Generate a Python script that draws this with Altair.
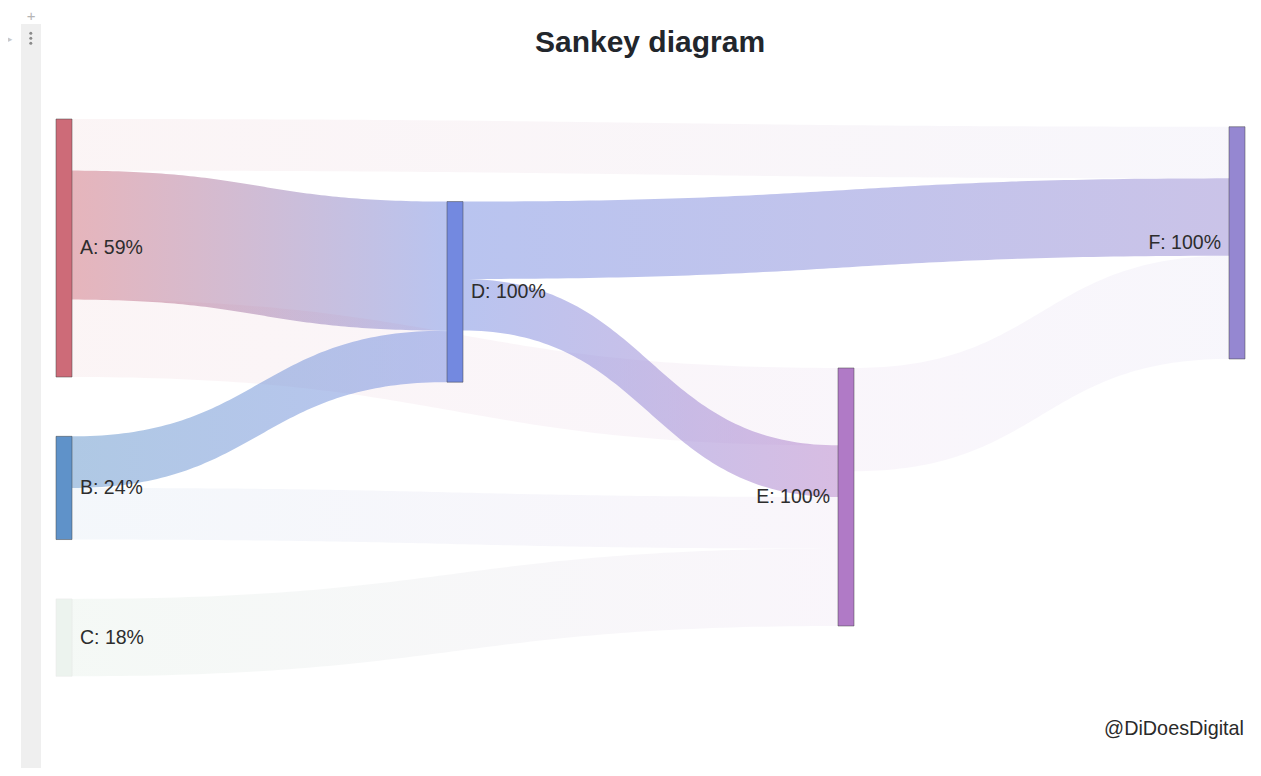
import altair as alt
import pandas as pd
import numpy as np

# ---------------- data ----------------
node_names = ["A", "B", "C", "D", "E", "F"]
node_labels = ["A: 59%", "B: 24%", "C: 18%", "D: 100%", "E: 100%", "F: 100%"]
node_colors = ["#cd6b78", "#5f92c9", "#6aa57a", "#7389e0", "#b07ac6", "#9587d1"]
node_column = [0, 0, 0, 1, 2, 3]
node_top = [0, 123, 186, 32, 96.5, 3]  # layout (like plotly node.y), in flow units

link_source = ["A", "A", "A", "B", "B", "C", "D", "D", "E"]
link_target = ["F", "D", "E", "D", "E", "E", "F", "E", "F"]
link_value = [20, 50, 30, 20, 20, 30, 30, 20, 40]

focus_node = "D"
title_text = "Sankey diagram"
credit_text = "@DiDoesDigital"

# ---------------- geometry / scales ----------------
W, H = 1245, 760
COL_X0 = 48.0       # pixel of column 0
COL_STEP = 391.0    # pixels per column
NODE_W_PX = 16.0
Y0_PX = 111.0       # pixel of flow-unit 0
PX_PER_UNIT = 2.58

node_w = NODE_W_PX / COL_STEP
x_domain = [(0 - COL_X0) / COL_STEP, (W - COL_X0) / COL_STEP]
y_domain = [-Y0_PX / PX_PER_UNIT, (H - Y0_PX) / PX_PER_UNIT]
xs = alt.Scale(domain=x_domain, nice=False, zero=False)
ys = alt.Scale(domain=y_domain, nice=False, zero=False, reverse=True)

idx = {n: i for i, n in enumerate(node_names)}
inflow = {n: 0 for n in node_names}
outflow = {n: 0 for n in node_names}
for s, t, v in zip(link_source, link_target, link_value):
    outflow[s] += v
    inflow[t] += v
node_size = {n: max(inflow[n], outflow[n]) for n in node_names}
focus_set = {focus_node}
for s, t in zip(link_source, link_target):
    if s == focus_node:
        focus_set.add(t)
    if t == focus_node:
        focus_set.add(s)

# link offsets at source and target
src_off, tgt_off = {}, {}
for n in node_names:
    outs = [i for i, s in enumerate(link_source) if s == n]
    outs.sort(key=lambda i: node_top[idx[link_target[i]]])
    acc = node_top[idx[n]]
    for i in outs:
        src_off[i] = acc
        acc += link_value[i]
    ins = [i for i, t in enumerate(link_target) if t == n]
    ins.sort(key=lambda i: node_top[idx[link_source[i]]])
    acc = node_top[idx[n]]
    for i in ins:
        tgt_off[i] = acc
        acc += link_value[i]

tt = np.linspace(0, 1, 90)
rows = []
for i, (s, t, v) in enumerate(zip(link_source, link_target, link_value)):
    x0 = node_column[idx[s]] + node_w
    x1 = node_column[idx[t]]
    xm = (x0 + x1) / 2
    bx = (1 - tt) ** 3 * x0 + 3 * (1 - tt) ** 2 * tt * xm + 3 * (1 - tt) * tt ** 2 * xm + tt ** 3 * x1
    sm = 3 * tt ** 2 - 2 * tt ** 3
    ytop = src_off[i] + (tgt_off[i] - src_off[i]) * sm
    for a, b in zip(bx, ytop):
        rows.append({"link": i, "x": float(a), "y": float(b), "y2": float(b + v)})
links_df = pd.DataFrame(rows)

nodes_df = pd.DataFrame({
    "name": node_names,
    "label": node_labels,
    "color": node_colors,
    "x": [float(c) for c in node_column],
    "x2": [c + node_w for c in node_column],
    "y": node_top,
    "y2": [node_top[i] + node_size[n] for i, n in enumerate(node_names)],
    "op": [1.0 if n in focus_set else 0.12 for n in node_names],
})
nodes_df["ym"] = (nodes_df["y"] + nodes_df["y2"]) / 2
nodes_df["side"] = ["right" if c < 2 else "left" for c in node_column]

FONT = "Liberation Sans"
layers = []

# gutter decoration (notebook cell bar)
gutter = alt.Chart(pd.DataFrame({"g": [0]})).mark_rect(color="#efefef").encode(
    x=alt.value(13), x2=alt.value(33), y=alt.value(16), y2=alt.value(H)
)
dots = alt.Chart(pd.DataFrame({"py": [25.3, 30.3, 35.3]})).mark_circle(
    color="#8a8a8a", size=9, opacity=1
).encode(x=alt.value(22.8), y=alt.Y("py:Q", scale=None))
plus = alt.Chart(pd.DataFrame({"t": ["+"]})).mark_text(
    x=23, y=13, fontSize=15, color="#b5b5b5", font=FONT, baseline="alphabetic"
).encode(text="t:N")
tri = alt.Chart(pd.DataFrame({"t": ["▸"]})).mark_text(
    x=2, y=31, fontSize=9, color="#c8c8c8", font="DejaVu Sans", baseline="middle"
).encode(text="t:N")
layers += [gutter, dots, plus, tri]

for i, (s, t) in enumerate(zip(link_source, link_target)):
    grad = alt.LinearGradient(
        gradient="linear",
        stops=[alt.GradientStop(color=node_colors[idx[s]], offset=0),
               alt.GradientStop(color=node_colors[idx[t]], offset=1)],
        x1=0, x2=1, y1=0, y2=0,
    )
    op = 0.5 if (s == focus_node or t == focus_node) else 0.07
    layers.append(
        alt.Chart(links_df).transform_filter(alt.datum.link == i)
        .mark_area(color=grad, opacity=op, orient="vertical", interpolate="linear")
        .encode(
            x=alt.X("x:Q", scale=xs, axis=None),
            y=alt.Y("y:Q", scale=ys, axis=None),
            y2="y2:Q",
        )
    )

nodes = alt.Chart(nodes_df).mark_rect(stroke="#444444", strokeWidth=0.5).encode(
    x=alt.X("x:Q", scale=xs, axis=None),
    x2="x2:Q",
    y=alt.Y("y:Q", scale=ys, axis=None),
    y2="y2:Q",
    color=alt.Color("color:N", scale=None),
    opacity=alt.Opacity("op:Q", scale=None),
)
layers.append(nodes)

lab_r = alt.Chart(nodes_df).transform_filter(alt.datum.side == "right").mark_text(
    align="left", baseline="middle", dx=8, fontSize=19.5, font=FONT, color="#2d2d2d"
).encode(x=alt.X("x2:Q", scale=xs, axis=None), y=alt.Y("ym:Q", scale=ys, axis=None), text="label:N")
lab_l = alt.Chart(nodes_df).transform_filter(alt.datum.side == "left").mark_text(
    align="right", baseline="middle", dx=-8, fontSize=19.5, font=FONT, color="#2d2d2d"
).encode(x=alt.X("x:Q", scale=xs, axis=None), y=alt.Y("ym:Q", scale=ys, axis=None), text="label:N")
layers += [lab_r, lab_l]

title = alt.Chart(pd.DataFrame({"t": [title_text]})).mark_text(
    x=642, y=44, align="center", baseline="alphabetic", fontSize=30, fontWeight="bold",
    font=FONT, color="#22262c"
).encode(text="t:N")
credit = alt.Chart(pd.DataFrame({"t": [credit_text]})).mark_text(
    x=1236, y=727, align="right", baseline="alphabetic", fontSize=19.8, font=FONT, color="#2a2a2a"
).encode(text="t:N")
layers += [title, credit]

chart = alt.layer(*layers).properties(
    width=W, height=H, padding=0,
    autosize=alt.AutoSizeParams(type="none"),
    background="white",
).configure_view(strokeWidth=0)

chart.save("out.html", embed_options={"renderer": "svg", "actions": False})
